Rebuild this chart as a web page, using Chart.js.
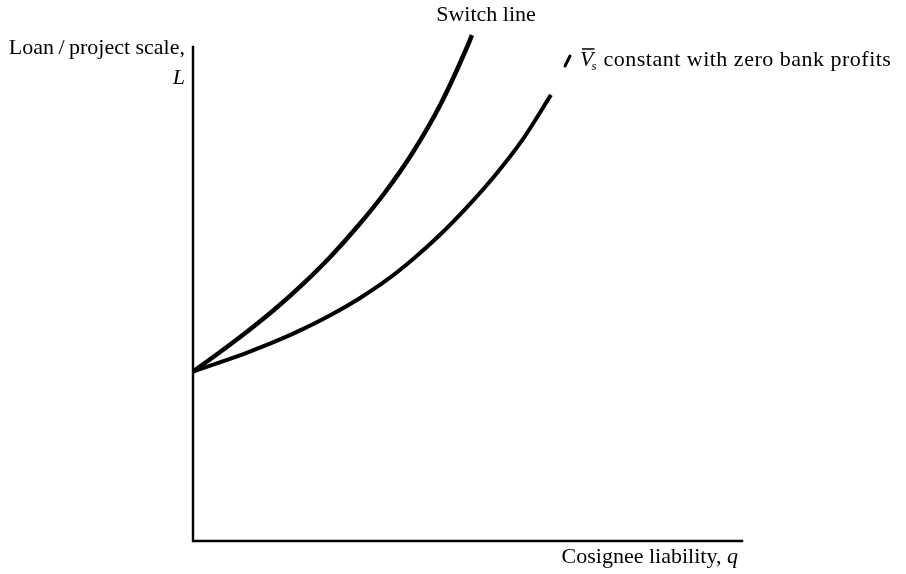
<!DOCTYPE html>
<html>
<head>
<meta charset="utf-8">
<title>Switch line</title>
<script src="https://cdn.jsdelivr.net/npm/chart.js@4.4.1/dist/chart.umd.min.js"></script>
<style>
  html, body { margin: 0; padding: 0; background: #fff; }
  canvas { display: block; }
</style>
</head>
<body>
<canvas id="diagram" width="906" height="574"></canvas>
<script>
  // values (axis units 0..10, no ticks shown)
  const switchQ = [0, 0.5, 1.0, 1.5, 2.0, 2.5, 3.0, 3.5, 4.0, 4.5, 5.0, 5.08];
  const switchL = [3.43, 3.83, 4.25, 4.70, 5.20, 5.75, 6.37, 7.06, 7.86, 8.82, 10.02, 10.24];

  const vsQ = [0, 0.5, 1.0, 1.5, 2.0, 2.5, 3.0, 3.5, 4.0, 4.5, 5.0, 5.5, 6.0, 6.52];
  const vsL = [3.43, 3.62, 3.82, 4.04, 4.29, 4.57, 4.89, 5.26, 5.70, 6.20, 6.77, 7.40, 8.12, 9.03];

  const axisMax = [10, 10];

  const FONT = '"Liberation Serif", "Times New Roman", serif';

  function toPoints(xs, ys) {
    return xs.map((x, i) => ({ x: x, y: ys[i] }));
  }

  const labelsPlugin = {
    id: 'labels',
    afterDraw(chart) {
      const ctx = chart.ctx;
      const xs = chart.scales.x, ys = chart.scales.y;
      const x0 = xs.getPixelForValue(0), y0 = ys.getPixelForValue(0);
      const x1 = xs.getPixelForValue(axisMax[0]), y1 = ys.getPixelForValue(axisMax[1]);

      ctx.save();
      // axes
      ctx.strokeStyle = '#000';
      ctx.lineWidth = 2.4;
      ctx.lineCap = 'square';
      ctx.beginPath();
      ctx.moveTo(x0, y1);
      ctx.lineTo(x0, y0);
      ctx.lineTo(x1, y0);
      ctx.stroke();

      ctx.fillStyle = '#000';
      ctx.textBaseline = 'middle';

      // y axis title
      ctx.font = '22px ' + FONT;
      ctx.textAlign = 'right';
      ctx.fillText('Loan\u2009/\u2009project scale,', x0 - 8, 48);
      ctx.font = 'italic 22px ' + FONT;
      ctx.fillText('L', x0 - 8, 78);

      // x axis title
      ctx.font = '22px ' + FONT;
      ctx.textAlign = 'right';
      const qW = ctx.measureText('q').width;
      ctx.fillText('Cosignee liability,\u00a0', x1 - 4 - qW, 557);
      ctx.font = 'italic 22px ' + FONT;
      ctx.fillText('q', x1 - 4, 557);

      // switch line label
      ctx.font = '22px ' + FONT;
      ctx.textAlign = 'center';
      ctx.fillText('Switch line', 486, 15);

      // Vs label with leader stroke
      ctx.lineWidth = 3;
      ctx.lineCap = 'round';
      ctx.beginPath();
      ctx.moveTo(565, 66);
      ctx.lineTo(570, 56);
      ctx.stroke();

      ctx.textAlign = 'left';
      ctx.font = 'italic 22px ' + FONT;
      const vx = 580, vy = 60;
      ctx.fillText('V', vx, vy);
      const vW = ctx.measureText('V').width;
      ctx.lineWidth = 1.5;
      ctx.lineCap = 'butt';
      ctx.beginPath();
      ctx.moveTo(vx + 2, vy - 11);
      ctx.lineTo(vx + vW + 1, vy - 11);
      ctx.stroke();
      ctx.font = 'italic 13px ' + FONT;
      ctx.fillText('s', vx + vW - 2, vy + 7);
      ctx.font = '22px ' + FONT;
      ctx.letterSpacing = '0.5px';
      ctx.fillText('constant with zero bank profits', vx + vW + 10, vy);
      ctx.letterSpacing = '0px';
      ctx.restore();
    }
  };

  new Chart(document.getElementById('diagram').getContext('2d'), {
    type: 'scatter',
    data: {
      datasets: [
        {
          label: 'Switch line',
          data: toPoints(switchQ, switchL),
          showLine: true,
          borderColor: '#000',
          borderWidth: 4.5,
          pointRadius: 0,
          cubicInterpolationMode: 'monotone',
          clip: false
        },
        {
          label: 'Vs constant with zero bank profits',
          data: toPoints(vsQ, vsL),
          showLine: true,
          borderColor: '#000',
          borderWidth: 4,
          pointRadius: 0,
          cubicInterpolationMode: 'monotone',
          clip: false
        }
      ]
    },
    options: {
      responsive: false,
      animation: false,
      layout: { padding: { left: 193, right: 164, top: 47, bottom: 33 } },
      plugins: {
        legend: { display: false },
        tooltip: { enabled: false }
      },
      scales: {
        x: { type: 'linear', min: 0, max: axisMax[0], display: false },
        y: { type: 'linear', min: 0, max: axisMax[1], display: false }
      }
    },
    plugins: [labelsPlugin]
  });
</script>
</body>
</html>
